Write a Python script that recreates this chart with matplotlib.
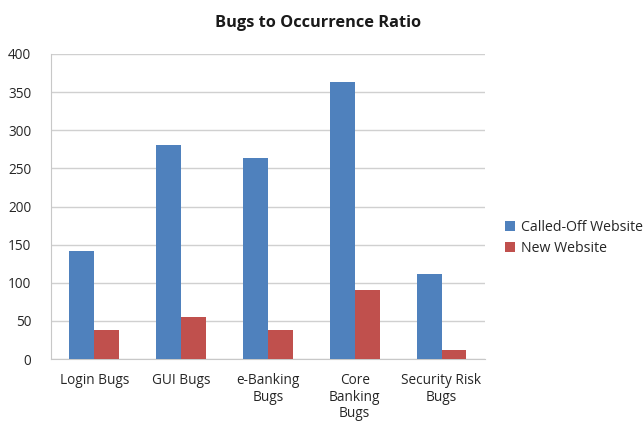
import numpy as np
import matplotlib.pyplot as plt

# Kategorien und Werte
categories = ["Login Bugs", "GUI Bugs", "e-Banking\nBugs", "Core\nBanking\nBugs", "Security Risk\nBugs"]
called_off = [142, 280, 264, 363, 111]
new_site = [38, 55, 38, 91, 12]
series_names = ["Called-Off Website", "New Website"]
yticks = [0, 50, 100, 150, 200, 250, 300, 350, 400]

plt.rcParams['font.family'] = ['Open Sans', 'DejaVu Sans']

fig = plt.figure(figsize=(6.44, 4.21), dpi=100)
ax = fig.add_axes([0.079, 0.147, 0.674, 0.725])

x = np.arange(len(categories))
w = 0.286
ax.bar(x - w / 2, called_off, w, color='#4F81BD', label=series_names[0], zorder=3)
ax.bar(x + w / 2, new_site, w, color='#C0504D', label=series_names[1], zorder=3)

ax.set_xlim(-0.5, len(categories) - 0.5)
ax.set_ylim(0, 400)
ax.set_yticks(yticks)
ax.set_xticks(x)
ax.set_xticklabels(categories, fontsize=9.8, color='#262626', linespacing=1.15)
ax.tick_params(axis='y', labelsize=9.8, colors='#262626', length=0, pad=14)
ax.tick_params(axis='x', length=0, pad=10)

ax.grid(axis='y', color='#d0d0d0', linewidth=1, zorder=0)
for s in ['top', 'right']:
    ax.spines[s].set_visible(False)
ax.spines['left'].set_color('#c8c8c8')
ax.spines['bottom'].set_color('#c8c8c8')

fig.text(0.494, 0.945, "Bugs to Occurrence Ratio", ha='center', va='center',
         fontsize=11.8, fontweight='bold', color='#1a1a1a')

fig.legend(loc='center left', bbox_to_anchor=(0.765, 0.435), frameon=False,
           fontsize=10.2, handlelength=0.7, handleheight=0.7, handletextpad=0.4,
           labelspacing=0.45, labelcolor='#262626')

fig.savefig("out.png", dpi=100)
